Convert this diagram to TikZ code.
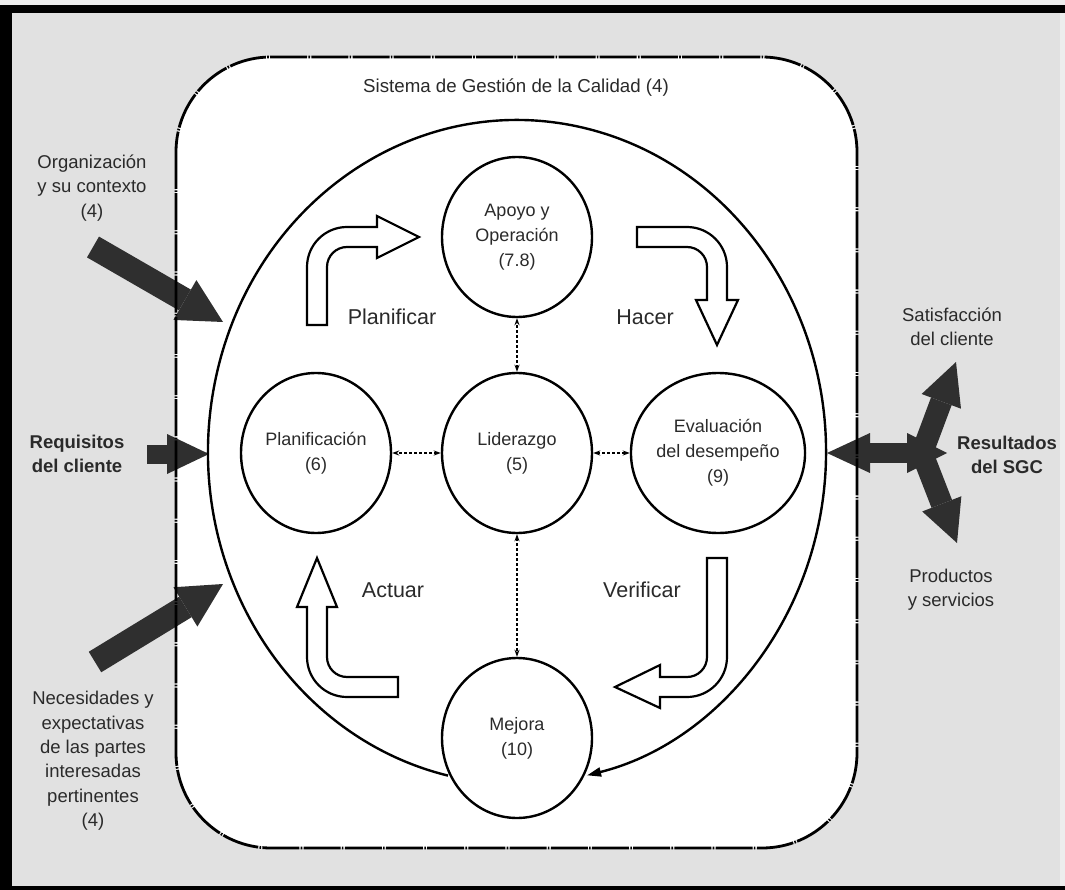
\documentclass[tikz,border=0pt]{standalone}
\usepackage{fontspec}
\setmainfont{Liberation Sans}
\usetikzlibrary{shapes.geometric,arrows.meta}
\definecolor{bg}{HTML}{E1E1E1}
\definecolor{darkarrow}{HTML}{2F2F2F}
\definecolor{txt}{HTML}{2A2A2A}
\definecolor{edgegray}{HTML}{EDEDED}
\begin{document}
\begin{tikzpicture}[x=1pt,y=-1pt,
  circ/.style={draw=black, line width=2.4pt, fill=white, ellipse, minimum width=150pt, minimum height=160pt, inner sep=0pt, align=center, text=txt, font=\fontsize{18}{25}\selectfont},
  lbl/.style={text=txt, align=center, font=\fontsize{18.5}{24.4}\selectfont},
  blbl/.style={text=txt, align=center, font=\bfseries\fontsize{18.5}{23.5}\selectfont},
  phase/.style={text=txt, font=\fontsize{21.5}{26}\selectfont},
  hollow/.style={draw=black, line width=2.2pt, fill=white, line join=miter},
  fatarrow/.style={draw=darkarrow, line width=#1},
  link/.style={draw=black, line width=1.3pt, densely dashed, {Stealth[length=7pt,width=5pt]}-{Stealth[length=7pt,width=5pt]}},
  sgcbox/.style={draw=black, line width=2.8pt, rounded corners=95pt, dash pattern=on 37pt off 1.3pt on 1.6pt off 1.3pt}
]
\useasboundingbox (0,0) rectangle (1065,890);
% background and frame
\fill[bg] (0,0) rectangle (1065,890);
\fill[edgegray] (0,0) rectangle (1065,5);
\fill[black] (0,5) rectangle (1065,13);
\fill[black] (0,5) rectangle (12,890);
\fill[black] (0,886) rectangle (1065,890);
\fill[edgegray] (1060,13) rectangle (1065,886);

% SGC box fill
\fill[white, rounded corners=95pt] (176,57) rectangle (857,848);

% coordinates for fat arrows
\coordinate (orgT) at (93,247);
\coordinate (orgH) at (223,322);
\coordinate (reqT) at (147,454);
\coordinate (reqH) at (209,454);
\coordinate (necT) at (95,662);
\coordinate (necH) at (223,584);
\coordinate (resL) at (827,453);
\coordinate (resR) at (947,453);
\coordinate (resJ) at (922,453);
\coordinate (satH) at (956,362);
\coordinate (proH) at (957,543);

% dark input arrows
\draw[fatarrow=24pt, -{Triangle[length=44pt,width=46pt,line width=0pt]}] (orgT) -- (orgH);
\draw[fatarrow=19pt, -{Triangle[length=42pt,width=40pt,line width=0pt]}] (reqT) -- (reqH);
\draw[fatarrow=24pt, -{Triangle[length=44pt,width=46pt,line width=0pt]}] (necT) -- (necH);
% output arrows
\draw[fatarrow=20pt, {Triangle[length=43pt,width=40pt,line width=0pt]}-{Triangle[length=40pt,width=40pt,line width=0pt]}] (resL) -- (resR);
\draw[fatarrow=22pt, -{Triangle[length=42pt,width=42pt,line width=0pt]}] (resJ) -- (satH);
\draw[fatarrow=22pt, -{Triangle[length=42pt,width=42pt,line width=0pt]}] (resJ) -- (proH);

% SGC box outline
\draw[sgcbox] (176,57) rectangle (857,848);
\node[text=txt, font=\fontsize{18.7}{22}\selectfont] (title) at (516,88) {Sistema de Gestión de la Calidad (4)};

% big cycle ellipse
\coordinate (bigc) at (517,452);
\draw[line width=2.4pt, -{Triangle[length=14pt,width=9pt]}] (bigc) ++(102.9:309 and 332) arc[start angle=102.9, end angle=436.9, x radius=309, y radius=332];

% circles
\node[circ] (apoyo) at (517,237) {Apoyo y\\Operación\\(7.8)};
\node[circ] (lider) at (517,453) {Liderazgo\\(5)};
\node[circ] (planif) at (316,453) {Planificación\\(6)};
\node[circ] (eval) at (718,453) {Evaluación\\del desempeño\\(9)};
\node[circ] (mejora) at (517,738) {Mejora\\(10)};

% links
\draw[link] (lider) -- (apoyo);
\draw[link] (lider) -- (planif);
\draw[link] (lider) -- (eval);
\draw[link] (lider) -- (mejora);

% hollow PDCA arrows
% Planificar
\draw[hollow] (307,325) -- (307,267) arc[start angle=180, end angle=270, radius=40] -- (377,227) -- (377,216) -- (419,237) -- (377,258) -- (377,247) -- (347,247) arc[start angle=270, end angle=180, radius=20] -- (327,325) -- cycle;
% Hacer
\draw[hollow] (637,227) -- (687,227) arc[start angle=270, end angle=360, radius=40] -- (727,300) -- (738,300) -- (717,345) -- (696,300) -- (707,300) -- (707,267) arc[start angle=0, end angle=-90, radius=20] -- (637,247) -- cycle;
% Verificar
\draw[hollow] (707,558) -- (727,558) -- (727,657) arc[start angle=0, end angle=90, radius=40] -- (660,697) -- (660,708) -- (615,687) -- (660,665) -- (660,677) -- (687,677) arc[start angle=90, end angle=0, radius=20] -- cycle;
% Actuar
\draw[hollow] (398,697) -- (347,697) arc[start angle=90, end angle=180, radius=40] -- (307,607) -- (297,607) -- (317,558) -- (337,607) -- (327,607) -- (327,657) arc[start angle=180, end angle=90, radius=20] -- (398,677) -- cycle;

% phase labels
\node[phase] (lplan) at (392,317) {Planificar};
\node[phase] (lhacer) at (645,317) {Hacer};
\node[phase] (lact) at (393,590) {Actuar};
\node[phase] (lver) at (642,590) {Verificar};

% outside labels
\node[lbl] (org) at (92,188) {Organización\\y su contexto\\(4)};
\node[blbl] (req) at (77,454) {Requisitos\\del cliente};
\node[lbl] (nec) at (93,761) {Necesidades y\\expectativas\\de las partes\\interesadas\\pertinentes\\(4)};
\node[lbl] (sat) at (952,327) {Satisfacción\\del cliente};
\node[blbl] (res) at (1007,455) {Resultados\\del SGC};
\node[lbl] (prod) at (951,590) {Productos\\y servicios};
\end{tikzpicture}
\end{document}
